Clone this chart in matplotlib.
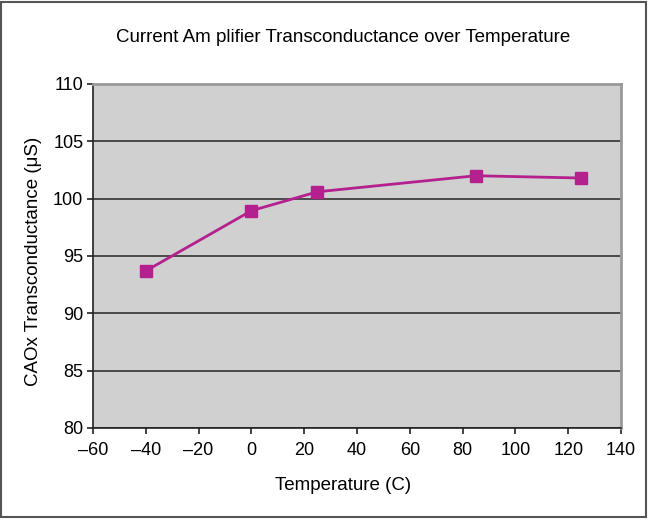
import matplotlib
matplotlib.use("Agg")
import matplotlib.pyplot as plt
from matplotlib.patches import Rectangle

plt.rcParams['font.family'] = ['Liberation Sans', 'DejaVu Sans']

temperature = [-40, 0, 25, 85, 125]
transconductance = [93.7, 98.95, 100.6, 102.0, 101.8]
x_ticks = [-60, -40, -20, 0, 20, 40, 60, 80, 100, 120, 140]
y_ticks = [80, 85, 90, 95, 100, 105, 110]

fig = plt.figure(figsize=(6.48, 5.19), dpi=100)
ax = fig.add_axes([93 / 648, 1 - 428 / 519, (621 - 93) / 648, (428 - 84) / 519])

ax.set_facecolor('#d0d0d0')
ax.set_xlim(-60, 140)
ax.set_ylim(80, 110)
ax.set_xticks(x_ticks)
ax.set_yticks(y_ticks)
ax.set_xticklabels([str(t).replace('-', '\u2013') for t in x_ticks])

ax.yaxis.grid(True, color='#333333', linewidth=1.2)
ax.set_axisbelow(True)

ax.plot(temperature, transconductance, color='#b5208f', linewidth=2,
        marker='s', markersize=9, markerfacecolor='#b5208f',
        markeredgecolor='#b5208f', zorder=3)

for side in ('left', 'bottom'):
    ax.spines[side].set_color('#222222')
    ax.spines[side].set_linewidth(1.2)
for side in ('top', 'right'):
    ax.spines[side].set_color('#999999')
    ax.spines[side].set_linewidth(2)

ax.tick_params(direction='out', length=4, width=1.2, color='#222222',
               labelsize=13)
ax.tick_params(axis='x', pad=6)
ax.tick_params(axis='y', pad=3)

ax.set_xlabel('Temperature (C)', fontsize=13.5, labelpad=13)
ax.xaxis.label.set_x(0.473)
ax.set_ylabel('CAOx Transconductance (\u03bcS)', fontsize=13.5, labelpad=8)
ax.yaxis.label.set_y(0.483)
fig.text(343 / 648, 1 - 37 / 519, 'Current Am plifier Transconductance over Temperature',
         ha='center', va='center', fontsize=13.5)

fig.patches.append(Rectangle((0.002, 0.003), 0.995, 0.994, transform=fig.transFigure,
                             fill=False, edgecolor='#555555', linewidth=1.5))

fig.savefig('out.png', dpi=100)
